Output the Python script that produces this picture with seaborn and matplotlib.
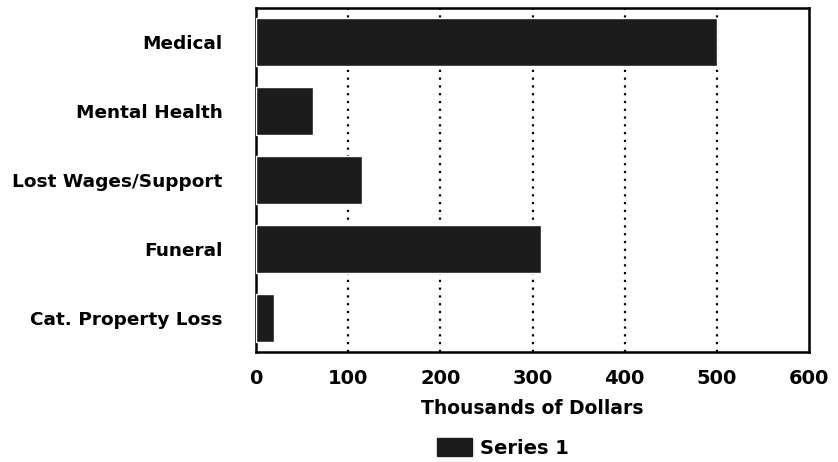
import matplotlib
matplotlib.use('Agg')
import matplotlib.pyplot as plt
import seaborn as sns
import pandas as pd
from matplotlib.patches import Patch

# Data
categories = ['Medical', 'Mental Health', 'Lost Wages/Support', 'Funeral', 'Cat. Property Loss']
values = [500, 62, 115, 309, 20]

df = pd.DataFrame({'category': categories, 'value': values})

sns.set_style('white')
plt.rcParams['font.family'] = ['DejaVu Sans']
plt.rcParams['font.weight'] = 'bold'
plt.rcParams['text.color'] = 'black'

fig = plt.figure(figsize=(8.38, 4.62), dpi=100)
ax = fig.add_axes([0.3055, 0.238, 0.66, 0.745])

bar_color = '#1c1c1c'
sns.barplot(data=df, x='value', y='category', orient='h', color=bar_color,
            width=0.7, saturation=1, ax=ax, zorder=3)

ax.set_xlim(0, 600)
ax.set_ylim(4.5, -0.5)
ax.set_xticks([0, 100, 200, 300, 400, 500, 600])
for x in [100, 200, 300, 400, 500]:
    ax.axvline(x, color='black', linestyle=(0, (1, 2.5)), linewidth=1.6, zorder=1)

for s in ax.spines.values():
    s.set_color('black')
    s.set_linewidth(1.8)

ax.tick_params(axis='x', direction='in', length=5, width=1.5, labelsize=14, pad=12,
               colors='black')
ax.tick_params(axis='y', length=0, labelsize=13.3, pad=24, labelcolor='black')
for lab in ax.get_xticklabels() + ax.get_yticklabels():
    lab.set_fontweight('bold')

ax.set_xlabel('Thousands of Dollars', fontsize=13.5, fontweight='bold', labelpad=8,
              color='black')
ax.set_ylabel('')

handles = [Patch(facecolor=bar_color, edgecolor=bar_color, label='Series 1')]
fig.legend(handles=handles, loc='center', bbox_to_anchor=(0.6, 0.03), frameon=False,
           prop={'size': 14, 'weight': 'bold'}, handlelength=1.8, handleheight=1.0,
           handletextpad=0.4, labelcolor='black')

fig.savefig('out.png', dpi=100)
